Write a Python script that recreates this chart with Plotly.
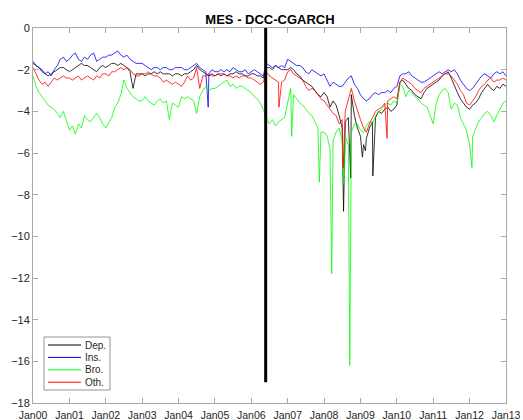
import pandas as pd
import plotly.graph_objects as go

# ---------------- data (monthly readings, Jan 2000 .. Jan 2013) ----------------
months = pd.date_range("2000-01-01", "2013-01-01", freq="MS")

dep = [
    -1.7, -1.8, -1.9, -2.1, -2.2, -2.3, -2.2, -2.1, -2.0, -1.9, -1.9, -2.0,   # 2000
    -2.1, -2.0, -1.9, -1.8, -1.7, -1.8, -1.8, -1.9, -2.0, -2.1, -1.9, -1.8,   # 2001
    -1.9, -1.8, -1.7, -1.7, -1.8, -1.7, -1.8, -1.9, -2.1, -2.9, -2.2, -2.2,   # 2002
    -2.2, -2.3, -2.2, -2.2, -2.1, -2.2, -2.1, -2.2, -2.2, -2.2, -2.3, -2.2,   # 2003
    -2.2, -2.3, -2.2, -2.2, -2.1, -2.0, -1.8, -2.0, -2.1, -2.2, -2.3, -2.2,   # 2004
    -2.3, -2.2, -2.3, -2.2, -2.3, -2.2, -2.2, -2.1, -2.2, -2.2, -2.3, -2.3,   # 2005
    -2.2, -2.2, -2.3, -2.3, -2.4, -1.9, -1.9, -2.0, -1.8, -1.9, -2.0, -2.0,   # 2006
    -2.0, -1.9, -2.0, -2.2, -2.3, -2.5, -2.6, -2.7, -2.8, -3.0, -3.2, -3.3,   # 2007
    -3.1, -3.3, -3.8, -3.5, -3.7, -4.2, -4.8, -4.5, -4.3, -3.2, -4.2, -4.8,   # 2008
    -5.2, -5.6, -5.3, -4.8, -4.5, -4.3, -4.0, -4.1, -3.9, -3.8, -4.0, -3.9,   # 2009
    -3.7, -2.6, -2.5, -2.7, -2.9, -3.0, -3.2, -3.3, -3.4, -3.1, -2.9, -2.8,   # 2010
    -2.7, -2.6, -2.5, -2.3, -2.2, -2.1, -2.4, -2.8, -3.1, -3.4, -3.6, -3.8,   # 2011
    -3.9, -3.7, -3.6, -3.4, -3.1, -2.9, -2.7, -2.9, -3.0, -2.8, -2.9, -2.7,   # 2012
    -2.8,                                                                     # 2013
]
ins = [
    -1.6, -1.8, -1.9, -2.0, -2.2, -2.1, -2.3, -2.0, -1.8, -1.5, -1.4, -1.6,
    -1.5, -1.3, -1.2, -1.5, -1.6, -1.4, -1.5, -1.3, -1.2, -1.6, -1.5, -1.4,
    -1.4, -1.3, -1.3, -1.2, -1.1, -1.3, -1.4, -1.3, -1.5, -1.6, -1.7, -1.7,
    -1.7, -1.8, -1.9, -2.0, -1.9, -1.9, -2.0, -1.9, -1.9, -2.0, -2.0, -1.9,
    -1.9, -1.9, -2.0, -2.0, -1.9, -1.8, -1.7, -1.9, -2.0, -2.1, -2.2, -2.0,
    -2.1, -2.1, -2.0, -2.1, -2.0, -2.1, -1.9, -2.0, -2.1, -2.1, -2.0, -2.2,
    -2.1, -2.0, -2.1, -2.2, -2.3, -1.7, -1.8, -1.9, -1.8, -1.9, -1.8, -1.9,
    -1.5, -1.6, -1.7, -1.8, -1.8, -1.9, -2.1, -2.2, -2.0, -2.1, -2.2, -2.3,
    -2.2, -2.5, -2.8, -2.6, -2.7, -2.8, -2.8, -2.6, -2.4, -2.3, -2.7, -2.9,
    -3.2, -3.4, -3.5, -3.4, -3.2, -3.1, -3.2, -3.1, -3.1, -3.0, -3.1, -2.9,
    -2.8, -2.3, -2.2, -2.2, -2.1, -2.3, -2.4, -2.5, -2.6, -2.6, -2.5, -2.4,
    -2.3, -2.2, -2.1, -2.2, -2.1, -2.0, -2.1, -2.0, -2.2, -2.5, -2.7, -2.9,
    -3.0, -2.9, -2.7, -2.5, -2.3, -2.2, -2.3, -2.4, -2.2, -2.1, -2.2, -2.1,
    -2.3,
]
bro = [
    -2.3, -2.8, -3.1, -3.3, -3.5, -3.7, -3.8, -3.9, -4.1, -4.3, -4.0, -4.4,
    -4.9, -4.7, -5.1, -4.6, -4.8, -4.2, -4.4, -4.5, -4.3, -4.1, -4.3, -4.6,
    -4.8, -4.5, -4.3, -3.8, -3.6, -3.2, -2.5, -2.9, -3.1, -3.3, -3.4, -3.5,
    -3.5, -3.3, -3.5, -3.6, -3.7, -3.5, -3.4, -3.6, -3.5, -4.4, -3.6, -3.7,
    -3.8, -3.3, -3.4, -3.3, -3.4, -3.5, -4.1, -3.3, -3.0, -2.8, -3.0, -2.9,
    -2.9, -2.8, -2.7, -2.6, -2.5, -2.8, -2.7, -2.9, -2.8, -2.8, -2.9, -3.0,
    -3.1, -3.3, -3.4, -3.6, -3.9, -4.3, -4.6, -4.4, -4.7, -4.5, -4.4, -4.3,
    -3.6, -2.9, -3.2, -3.4, -3.6, -3.7, -3.9, -4.1, -4.2, -4.5, -4.8, -5.0,
    -5.0, -5.2, -5.8, -5.4, -5.0, -4.8, -5.4, -5.2, -5.6, -5.0, -4.6, -4.6,
    -4.9, -5.0, -4.7, -4.5, -4.6, -4.2, -4.0, -3.9, -3.7, -3.6, -3.7, -3.5,
    -3.6, -2.7, -2.8, -3.3, -3.0, -3.1, -3.3, -3.4, -3.6, -3.7, -3.8, -4.2,
    -4.6, -3.6, -3.2, -3.0, -2.9, -3.1, -3.9, -3.6, -3.7, -4.3, -4.6, -4.9,
    -5.6, -5.2, -4.9, -4.5, -4.3, -4.1, -4.0, -4.2, -4.5, -4.2, -3.9, -3.6,
    -3.5,
]
oth = [
    -1.9, -2.2, -2.5, -2.7, -2.6, -2.8, -2.6, -2.4, -2.5, -2.4, -2.3, -2.4,
    -2.4, -2.5, -2.4, -2.3, -2.5, -2.4, -2.3, -2.4, -2.5, -2.3, -2.4, -2.2,
    -2.2, -2.3, -2.1, -2.1, -2.0, -1.9, -2.0, -1.9, -2.0, -2.2, -2.3, -2.3,
    -2.2, -2.2, -2.1, -2.2, -2.3, -2.3, -2.4, -2.6, -2.5, -2.6, -2.7, -2.6,
    -2.7, -2.8, -2.6, -2.3, -2.5, -2.4, -1.9, -2.9, -2.3, -2.3, -2.2, -2.3,
    -2.3, -2.2, -2.2, -2.2, -2.3, -2.3, -2.4, -2.3, -2.4, -2.3, -2.3, -2.4,
    -2.4, -2.5, -2.6, -2.7, -2.6, -2.1, -2.3, -2.4, -2.5, -2.6, -2.6, -2.5,
    -2.1, -2.0, -2.2, -2.3, -2.4, -2.5, -2.8, -3.0, -2.9, -3.0, -3.2, -3.4,
    -3.5, -3.7, -3.9, -4.1, -4.2, -4.6, -4.4, -4.0, -3.4, -2.9, -3.5, -4.0,
    -4.4, -4.8, -5.0, -4.6, -4.3, -4.0, -3.9, -3.8, -3.6, -3.5, -3.4, -3.3,
    -3.4, -2.6, -2.4, -2.5, -2.6, -2.7, -2.9, -3.0, -3.1, -2.9, -2.8, -2.7,
    -2.6, -2.5, -2.4, -2.3, -2.2, -2.2, -2.3, -2.5, -2.7, -3.0, -3.2, -3.6,
    -3.7, -3.5, -3.3, -3.0, -2.8, -2.7, -2.5, -2.4, -2.6, -2.5, -2.5, -2.4,
    -2.5,
]

# short-lived extreme readings (date, value)
dep_spike_dates = ["2008-07-15", "2008-09-25", "2009-01-20", "2009-02-20", "2009-05-05"]
dep_spike_vals = [-8.8, -7.2, -6.2, -5.9, -7.1]
ins_spike_dates = ["2004-10-25"]
ins_spike_vals = [-3.8]
bro_spike_dates = ["2007-02-10", "2007-11-15", "2008-03-18", "2008-07-20", "2008-09-15", "2012-01-25"]
bro_spike_vals = [-5.2, -7.4, -11.8, -7.5, -16.2, -6.7]
oth_spike_dates = ["2006-10-05", "2008-07-12", "2009-09-25"]
oth_spike_vals = [-3.8, -6.7, -5.3]

series_names = ["Dep.", "Ins.", "Bro.", "Oth."]
series_colors = ["#000000", "#0000ff", "#00ff00", "#ff0000"]

tick_dates = pd.date_range("2000-01-01", "2013-01-01", freq="YS")
tick_labels = ["Jan00", "Jan01", "Jan02", "Jan03", "Jan04", "Jan05", "Jan06",
               "Jan07", "Jan08", "Jan09", "Jan10", "Jan11", "Jan12", "Jan13"]
y_ticks = [0, -2, -4, -6, -8, -10, -12, -14, -16, -18]

event_date = "2006-05-25"
event_top, event_bottom = 0, -17

# ---------------- geometry (page body margin is removed, so figure = window) ----------------
W, H = 523, 420
PL, PR, PT, PB = 33, 506, 28, 403          # plot box in pixels
ML, MR, MT, MB = PL, W - PR, PT, H - PB
pw, ph = PR - PL, PB - PT

def px(xs):
    return (xs - PL) / pw

def py(ys):
    return (PB - ys) / ph

# ---------------- build figure ----------------
def merged(base, sdates, svals):
    df = pd.concat([
        pd.DataFrame({"d": months, "v": base}),
        pd.DataFrame({"d": pd.to_datetime(sdates), "v": svals}),
    ]).sort_values("d")
    return df

bases = [dep, ins, bro, oth]
spikes = [(dep_spike_dates, dep_spike_vals), (ins_spike_dates, ins_spike_vals),
          (bro_spike_dates, bro_spike_vals), (oth_spike_dates, oth_spike_vals)]

fig = go.Figure()
for name, color, base, (sd, sv) in zip(series_names, series_colors, bases, spikes):
    df = merged(base, sd, sv)
    fig.add_trace(go.Scatter(x=df["d"], y=df["v"], mode="lines", name=name,
                             line=dict(color=color, width=0.8), showlegend=False))

fig.add_shape(type="line", xref="x", yref="y", x0=event_date, x1=event_date,
              y0=event_top, y1=event_bottom, line=dict(color="black", width=3))

# MATLAB-style compact legend box (lower-left corner)
fig.add_shape(type="rect", xref="paper", yref="paper",
              x0=px(44), x1=px(110), y0=py(390), y1=py(337),
              line=dict(color="#7a7a7a", width=0.8), fillcolor="white", layer="above")
for i, (name, color) in enumerate(zip(series_names, series_colors)):
    yc = 345 + i * 12.4
    fig.add_shape(type="line", xref="paper", yref="paper",
                  x0=px(48), x1=px(81), y0=py(yc), y1=py(yc),
                  line=dict(color=color, width=1.0), layer="above")
    fig.add_annotation(xref="paper", yref="paper", x=px(83), y=py(yc),
                       xanchor="left", yanchor="middle", text=name, showarrow=False,
                       font=dict(size=10, color="#262626"))

axis_color = "#a8a8a8"
font_color = "#262626"
fig.update_layout(
    width=W, height=H,
    margin=dict(l=ML, r=MR, t=MT, b=MB, autoexpand=False),
    paper_bgcolor="white", plot_bgcolor="white",
    font=dict(family="Liberation Sans, Arial, sans-serif", size=11, color=font_color),
    title=dict(text="<b>MES - DCC-CGARCH</b>", x=px(270), xref="paper", xanchor="center",
               y=1 - 19 / H, yanchor="middle", yref="container",
               font=dict(size=13, color="black")),
    showlegend=False,
)
fig.update_xaxes(range=["2000-01-01", "2013-01-01"], tickvals=tick_dates, ticktext=tick_labels,
                 ticks="inside", ticklen=5, tickcolor=axis_color, showline=True,
                 linecolor=axis_color, linewidth=1, mirror="ticks", showgrid=False,
                 zeroline=False, automargin=False, ticklabeloverflow="allow",
                 tickfont=dict(size=10.5), ticklabelstandoff=2)
fig.update_yaxes(range=[-18, 0], tickvals=y_ticks, ticks="inside", ticklen=5,
                 tickcolor=axis_color, showline=True, linecolor=axis_color, linewidth=1,
                 mirror="ticks", showgrid=False, zeroline=False, automargin=False,
                 ticklabeloverflow="allow")

fig.write_html(
    "out.html",
    config={"displayModeBar": False},
    default_width=f"{W}px",
    default_height=f"{H}px",
    post_script="document.body.style.margin='0';document.body.style.overflow='hidden';",
)
